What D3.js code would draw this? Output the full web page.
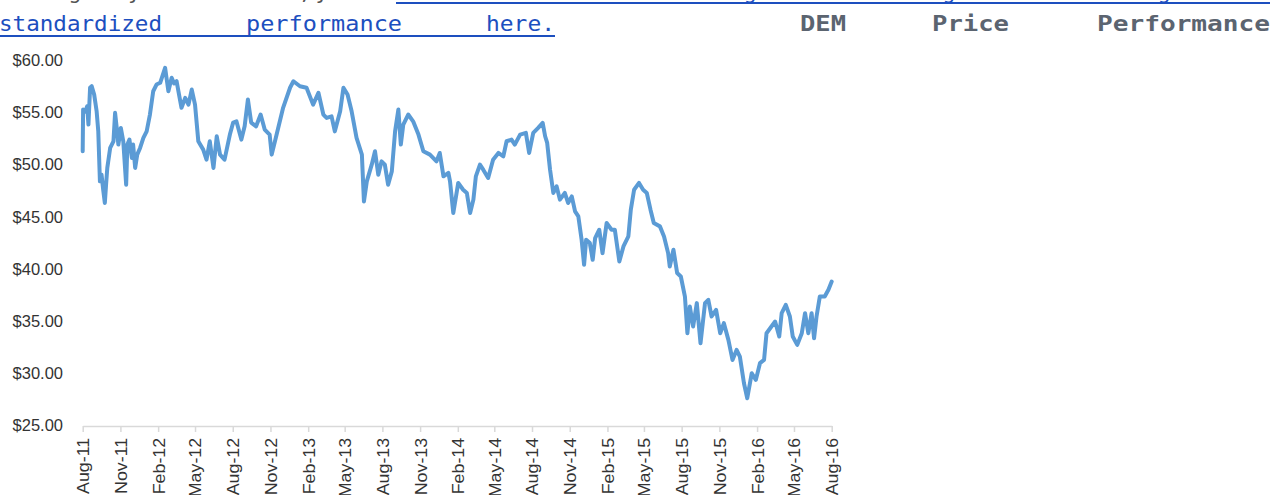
<!DOCTYPE html>
<html>
<head>
<meta charset="utf-8">
<script src="https://cdn.jsdelivr.net/npm/d3@7/dist/d3.min.js"></script>
<style>
  html, body { margin: 0; padding: 0; background: #ffffff; overflow: hidden; }
  svg { display: block; }
</style>
</head>
<body>
<svg id="chart" width="1281" height="495"></svg>
<script>
// ---------------- DATA ----------------
const seriesName = "DEM Price Performance";
const startDay = "2011-08-01";
// trading-day positions, in days since startDay
const dayOffsets = [
  0, 1, 6, 11, 14, 18, 22, 28, 34, 38, 42, 46, 50, 54, 57, 60, 67, 75, 79, 83,
  87, 93, 99, 106, 109, 114, 120, 123, 128, 133, 140, 148, 156, 164, 172, 180, 189, 197, 201, 205,
  209, 217, 223, 229, 235, 241, 250, 258, 266, 274, 282, 294, 302, 310, 319, 327, 335, 346, 359, 367,
  375, 387, 395, 403, 411, 423, 434, 444, 456, 461, 473, 489, 506, 514, 530, 546, 562, 575, 587, 595,
  607, 615, 628, 636, 646, 656, 668, 681, 686, 693, 705, 713, 721, 729, 737, 745, 754, 762, 770, 776,
  782, 794, 806, 819, 831, 847, 863, 871, 880, 892, 896, 904, 916, 928, 937, 945, 953, 959, 969, 977,
  989, 1001, 1014, 1026, 1034, 1046, 1054, 1067, 1081, 1089, 1099, 1111, 1122, 1128, 1133, 1140, 1148, 1156, 1164, 1176,
  1184, 1193, 1201, 1209, 1217, 1223, 1228, 1237, 1244, 1250, 1260, 1268, 1278, 1290, 1298, 1309, 1319, 1331, 1337, 1345,
  1357, 1367, 1376, 1385, 1393, 1408, 1418, 1428, 1432, 1441, 1450, 1459, 1469, 1475, 1481, 1489, 1498, 1507, 1518, 1526,
  1534, 1545, 1555, 1564, 1575, 1585, 1595, 1603, 1613, 1621, 1632, 1642, 1652, 1662, 1668, 1680, 1689, 1699, 1705, 1715,
  1725, 1732, 1743, 1754, 1762, 1770, 1778, 1784, 1790, 1798, 1810, 1819, 1827
];
// closing price, USD
const prices = [
  51.21, 55.21, 55.00, 55.52, 53.77, 57.29, 57.44, 56.64, 55.04, 53.12, 48.33, 48.97, 47.53, 46.26, 48.01, 49.62, 51.53, 52.17, 54.89, 53.45,
  51.85, 53.45, 52.17, 48.01, 51.85, 52.33, 50.57, 51.85, 49.62, 50.89, 51.53, 52.49, 53.12, 54.73, 56.96, 57.60, 57.77, 58.72, 59.20, 58.08,
  56.96, 58.25, 57.70, 57.92, 56.64, 55.37, 56.33, 55.68, 57.12, 55.68, 52.17, 51.37, 50.41, 52.17, 49.62, 52.65, 50.89, 50.41, 52.81, 53.96,
  54.08, 52.33, 53.60, 56.16, 53.96, 53.60, 54.73, 53.29, 52.81, 50.89, 52.81, 55.40, 57.32, 57.92, 57.44, 57.29, 55.68, 56.81, 54.73, 54.41,
  54.56, 53.12, 55.04, 57.29, 56.64, 55.04, 52.49, 50.89, 46.41, 48.33, 49.93, 51.21, 48.97, 50.25, 49.93, 48.01, 49.29, 53.12, 55.21, 51.85,
  53.77, 54.73, 54.08, 52.81, 51.21, 50.89, 50.25, 51.05, 48.81, 49.14, 48.33, 45.30, 48.18, 47.53, 47.22, 45.30, 46.58, 48.81, 49.93, 49.45,
  48.66, 50.41, 51.05, 50.73, 52.17, 52.33, 51.85, 52.81, 52.97, 51.05, 52.97, 53.45, 53.93, 52.65, 52.01, 49.45, 47.22, 47.85, 46.58, 47.22,
  46.26, 46.89, 45.45, 44.97, 42.74, 40.34, 42.74, 42.42, 40.82, 42.90, 43.70, 41.46, 44.34, 43.70, 43.70, 40.66, 42.10, 43.06, 45.62, 47.53,
  48.18, 47.53, 47.22, 45.62, 44.34, 44.02, 43.06, 41.46, 40.18, 41.78, 39.55, 39.22, 37.30, 33.79, 36.34, 34.43, 36.67, 32.83, 36.67, 36.99,
  35.39, 36.03, 33.79, 34.75, 33.15, 31.23, 32.19, 31.55, 29.00, 27.56, 29.96, 29.32, 30.92, 31.23, 33.79, 34.43, 34.91, 33.47, 35.71, 36.51,
  35.39, 33.47, 32.67, 33.79, 35.71, 33.79, 35.71, 33.31, 35.39, 37.30, 37.30, 37.95, 38.74
];
const xTickLabels = [
  "Aug-11", "Nov-11", "Feb-12", "May-12", "Aug-12", "Nov-12", "Feb-13", "May-13", "Aug-13", "Nov-13", "Feb-14",
  "May-14", "Aug-14", "Nov-14", "Feb-15", "May-15", "Aug-15", "Nov-15", "Feb-16", "May-16", "Aug-16"
];
const yTickValues = [25, 30, 35, 40, 45, 50, 55, 60];

// surrounding page text (partially visible)
const line1Plain = "Investing in any fund involves risk; you can";
const line1Link = "review the fund's long-term ratings and Morningstar's";
const line2Link = ["standardized", "performance", "here."];
const titleWords = seriesName.split(" ");

// ---------------- DRAW ----------------
const svg = d3.select("#chart");
const parseDay = d3.timeParse("%Y-%m-%d");
const parseTick = d3.timeParse("%b-%y");
const t0 = parseDay(startDay);
const points = dayOffsets.map((d, i) => ({ date: d3.timeDay.offset(t0, d), value: prices[i] }));
const tickDates = xTickLabels.map(parseTick);

const plot = { left: 82.7, right: 831.7, top: 59.5, bottom: 425 };
const x = d3.scaleTime()
  .domain([tickDates[0], tickDates[tickDates.length - 1]])
  .range([plot.left, plot.right]);
const y = d3.scaleLinear().domain([25, 60]).range([plot.bottom, plot.top]);

const axisFont = "'Liberation Sans', Arial, sans-serif";
const axisColor = "#333333";

// Y axis (labels only)
const yAxis = d3.axisLeft(y)
  .tickValues(yTickValues)
  .tickFormat(d3.format("$.2f"))
  .tickSize(0)
  .tickPadding(0);
const yg = svg.append("g").attr("transform", "translate(63,0)").call(yAxis);
yg.select(".domain").remove();
yg.selectAll("text")
  .attr("font-family", axisFont)
  .attr("font-size", "16.5px")
  .attr("fill", axisColor)
  .attr("dy", "0.36em");

// X axis
const xAxis = d3.axisBottom(x)
  .tickValues(tickDates)
  .tickFormat((d, i) => xTickLabels[i])
  .tickSizeInner(6)
  .tickSizeOuter(0);
const xg = svg.append("g").attr("transform", `translate(0,${plot.bottom + 1})`).call(xAxis);
xg.select(".domain").attr("stroke", "#d9d9d9").attr("stroke-width", 1.5);
xg.selectAll(".tick line").attr("stroke", "#d9d9d9").attr("stroke-width", 1.5);
xg.selectAll("text")
  .attr("font-family", axisFont)
  .attr("font-size", "16.5px")
  .attr("fill", axisColor)
  .attr("transform", "rotate(-90) scale(1.08,1)")
  .attr("text-anchor", "end")
  .attr("x", -11)
  .attr("y", 0)
  .attr("dy", "0.36em");

// price line
const line = d3.line()
  .x(d => x(d.date))
  .y(d => y(d.value));
svg.append("path")
  .datum(points)
  .attr("d", line)
  .attr("fill", "none")
  .attr("stroke", "#5b9bd5")
  .attr("stroke-width", 4)
  .attr("stroke-linejoin", "round")
  .attr("stroke-linecap", "round");

// ---------------- page text above ----------------
const mono = "'DejaVu Sans Mono', 'Liberation Mono', monospace";
const linkBlue = "#1d4fbf";
// first line (mostly cut off above the frame)
svg.append("text")
  .attr("x", 0).attr("y", -1)
  .attr("font-family", mono).attr("font-size", "22px").attr("fill", "#555555")
  .attr("textLength", 380).attr("lengthAdjust", "spacing")
  .text(line1Plain);
svg.append("text")
  .attr("x", 396).attr("y", -1)
  .attr("font-family", mono).attr("font-size", "22px").attr("fill", linkBlue)
  .attr("textLength", 874).attr("lengthAdjust", "spacing")
  .text(line1Link);
svg.append("line")
  .attr("x1", 396).attr("x2", 1270).attr("y1", 3).attr("y2", 3)
  .attr("stroke", linkBlue).attr("stroke-width", 2);

// second line: link words (justified)
const linkPos = [[-1, 163], [246, 156], [486, 69]];
svg.selectAll("text.linkword")
  .data(line2Link)
  .join("text")
  .attr("class", "linkword")
  .attr("x", (d, i) => linkPos[i][0])
  .attr("y", 31)
  .attr("textLength", (d, i) => linkPos[i][1])
  .attr("lengthAdjust", "spacingAndGlyphs")
  .attr("font-family", mono).attr("font-size", "22px").attr("fill", linkBlue)
  .text(d => d);
svg.append("line")
  .attr("x1", 0).attr("x2", 555).attr("y1", 36).attr("y2", 36)
  .attr("stroke", linkBlue).attr("stroke-width", 2);

// title words (bold, justified)
const titlePos = [[800, 46], [932, 77], [1097, 173]];
svg.selectAll("text.titleword")
  .data(titleWords)
  .join("text")
  .attr("class", "titleword")
  .attr("x", (d, i) => titlePos[i][0])
  .attr("y", 31)
  .attr("textLength", (d, i) => titlePos[i][1])
  .attr("lengthAdjust", "spacingAndGlyphs")
  .attr("font-family", mono).attr("font-size", "22px").attr("font-weight", "bold")
  .attr("fill", "#5b6470")
  .text(d => d);
</script>
</body>
</html>
